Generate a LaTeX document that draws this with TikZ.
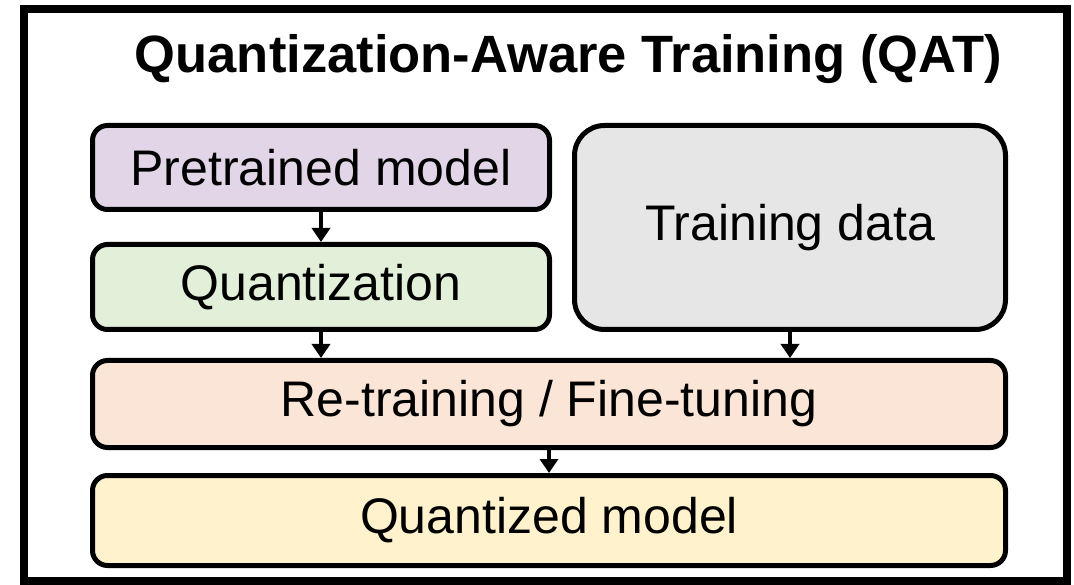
\documentclass[tikz,border=0pt]{standalone}
\usepackage{fontspec}
\setmainfont{Liberation Sans}
\usetikzlibrary{arrows.meta}
\definecolor{lila}{HTML}{E1D5E7}
\definecolor{hellgruen}{HTML}{E2EFD9}
\definecolor{hellgrau}{HTML}{E6E6E6}
\definecolor{lachs}{HTML}{FBE5D6}
\definecolor{creme}{HTML}{FFF2CC}

\begin{document}
\begin{tikzpicture}[x=1pt, y=-1pt,
	box/.style={draw, line width=5pt, rounded corners=15pt, inner sep=0pt,
		font=\fontsize{50}{60}\selectfont},
	pfeil/.style={line width=4pt, -{Triangle[width=18pt,length=14pt]}}]

\useasboundingbox (0,0) rectangle (1074,585);

% Rahmen und Titel
\draw[line width=8pt] (24,9) rectangle (1067,581);
\node[anchor=base, font=\fontsize{52.5}{62}\selectfont\bfseries] (titel) at (568.5,73)
	{Quantization-Aware Training (QAT)};

% Bausteine
\node[box, fill=lila, minimum width=457pt, minimum height=84pt]      (pre)   at (321,167.5) {Pretrained model};
\node[box, fill=hellgruen, minimum width=457pt, minimum height=85pt] (quant) at (321,287)   {Quantization};
\node[box, fill=hellgrau, rounded corners=30pt, minimum width=431pt, minimum height=204pt]
	(daten) at (790,227.5) {Training data};
\node[box, fill=lachs, minimum width=913pt, minimum height=87pt]     (retrain) at (549,404) {Re-training / Fine-tuning};
\node[box, fill=creme, minimum width=913pt, minimum height=90pt]     (qmodel)  at (549,520.5) {Quantized model};

% Pfeile
\draw[pfeil] (pre) -- (quant);
\draw[pfeil] (quant) -- (quant.south |- retrain.north);
\draw[pfeil] (daten) -- (daten.south |- retrain.north);
\draw[pfeil] (retrain) -- (qmodel);

\end{tikzpicture}
\end{document}
